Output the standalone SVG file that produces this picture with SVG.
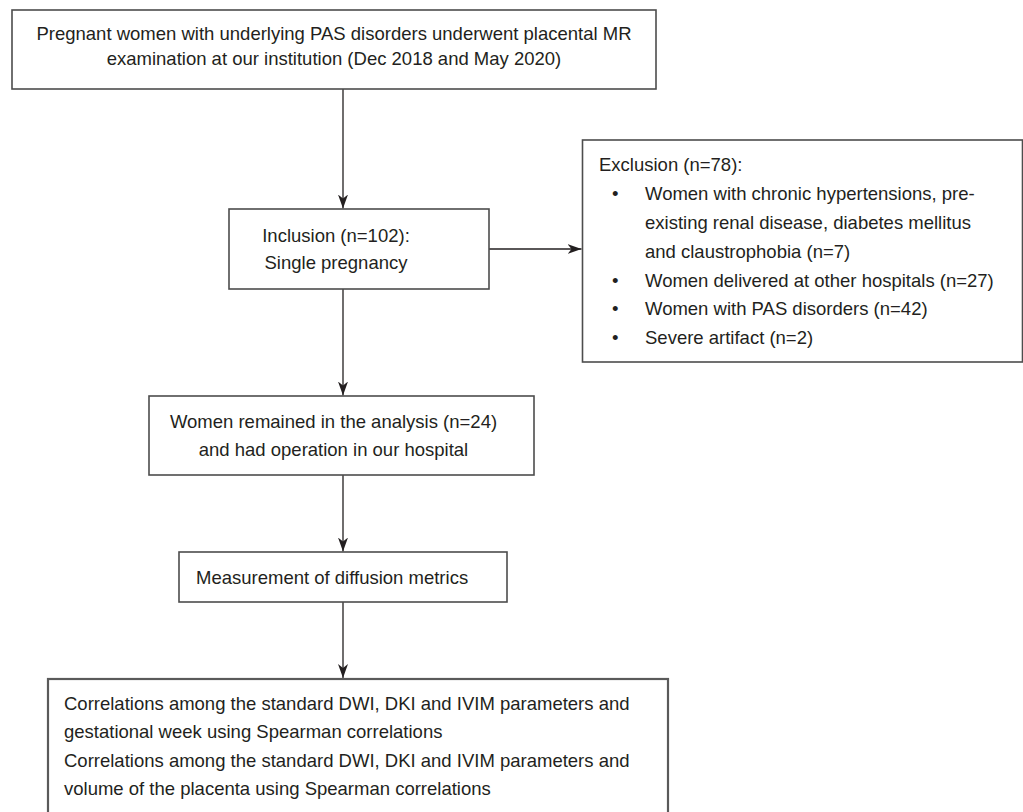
<svg xmlns="http://www.w3.org/2000/svg" width="1023" height="812" viewBox="0 0 1023 812">
<style>
.box{fill:#fff;stroke:#4d4d4d;stroke-width:1.6}
.t{font-family:"Liberation Sans",Arial,Helvetica,sans-serif;font-size:18.5px;fill:#231f20}
.c{text-anchor:middle}
.ln{stroke:#231f20;stroke-width:1.3;fill:none}
</style>
<defs>
<marker id="ah" viewBox="0 0 14 10" refX="14" refY="5" markerWidth="14" markerHeight="10" markerUnits="userSpaceOnUse" orient="auto">
<path d="M0,0 L14,5 L0,10 L4,5 Z" fill="#231f20"/>
</marker>
</defs>
<rect width="1023" height="812" fill="#fff"/>
<g id="connectors">
<line class="ln" x1="343" y1="89" x2="343" y2="208.5" marker-end="url(#ah)"/>
<line class="ln" x1="489" y1="249" x2="581.5" y2="249" marker-end="url(#ah)"/>
<line class="ln" x1="343" y1="289" x2="343" y2="395.5" marker-end="url(#ah)"/>
<line class="ln" x1="343" y1="475" x2="343" y2="551.5" marker-end="url(#ah)"/>
<line class="ln" x1="343" y1="602" x2="343" y2="678" marker-end="url(#ah)"/>
</g>
<g id="n1">
<rect class="box" x="12" y="10" width="644" height="79"/>
<text class="t c" x="334" y="39.5">Pregnant women with underlying PAS disorders underwent placental MR</text>
<text class="t c" x="334" y="65">examination at our institution (Dec 2018 and May 2020)</text>
</g>
<g id="n2">
<rect class="box" x="229" y="209" width="260" height="80"/>
<text class="t c" x="336" y="241.5">Inclusion (n=102):</text>
<text class="t c" x="336" y="268.5">Single pregnancy</text>
</g>
<g id="n3">
<rect class="box" x="582.5" y="140" width="440" height="222"/>
<text class="t" x="599" y="170.5">Exclusion (n=78):</text>
<text class="t" x="612" y="199.5">•</text>
<text class="t" x="645" y="199.5">Women with chronic hypertensions, pre-</text>
<text class="t" x="645" y="228.5">existing renal disease, diabetes mellitus</text>
<text class="t" x="645" y="257.5">and claustrophobia (n=7)</text>
<text class="t" x="612" y="286.5">•</text>
<text class="t" x="645" y="286.5">Women delivered at other hospitals (n=27)</text>
<text class="t" x="612" y="315">•</text>
<text class="t" x="645" y="315">Women with PAS disorders (n=42)</text>
<text class="t" x="612" y="344">•</text>
<text class="t" x="645" y="344">Severe artifact (n=2)</text>
</g>
<g id="n4">
<rect class="box" x="149" y="396" width="385" height="79"/>
<text class="t c" x="333.5" y="428">Women remained in the analysis (n=24)</text>
<text class="t c" x="333.5" y="456">and had operation in our hospital</text>
</g>
<g id="n5">
<rect class="box" x="179" y="552" width="328" height="50"/>
<text class="t" x="196" y="584">Measurement of diffusion metrics</text>
</g>
<g id="n6">
<rect class="box" x="48" y="679" width="620" height="150" style="stroke-width:2.2;stroke:#5a5a5a"/>
<text class="t" x="64" y="709.5">Correlations among the standard DWI, DKI and IVIM parameters and</text>
<text class="t" x="64" y="738">gestational week using Spearman correlations</text>
<text class="t" x="64" y="766.5">Correlations among the standard DWI, DKI and IVIM parameters and</text>
<text class="t" x="64" y="795">volume of the placenta using Spearman correlations</text>
</g>
</svg>
